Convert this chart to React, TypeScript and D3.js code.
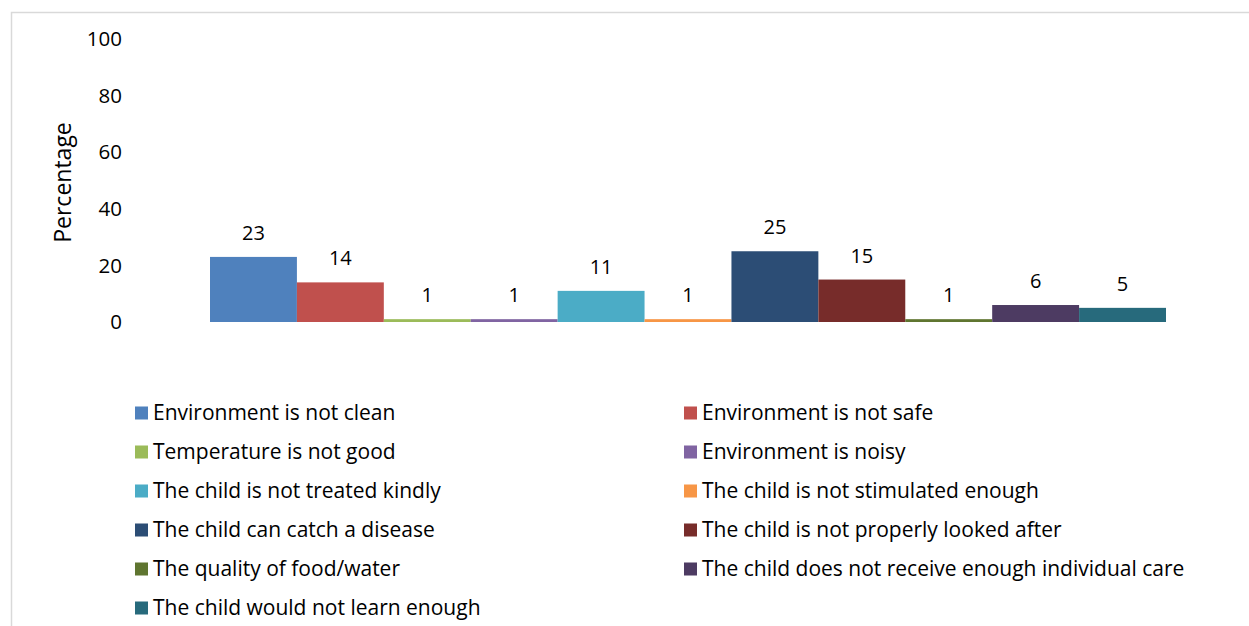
import React from 'react';
import * as d3 from 'd3';

// Reasons (one series each, single category)
const SERIES = [
  'Environment is not clean',
  'Environment is not safe',
  'Temperature is not good',
  'Environment is noisy',
  'The child is not treated kindly',
  'The child is not stimulated enough',
  'The child can catch a disease',
  'The child is not properly looked after',
  'The quality of food/water',
  'The child does not receive enough individual care',
  'The child would not learn enough',
];

const VALUES = [23, 14, 1, 1, 11, 1, 25, 15, 1, 6, 5];

const COLORS = [
  '#4F81BD', '#C0504D', '#9BBB59', '#8064A2', '#4BACC6', '#F79646',
  '#2C4D75', '#772C2A', '#5F7530', '#4D3B62', '#276A7C',
];

const Y_TICKS = [0, 20, 40, 60, 80, 100];

const WIDTH = 1249;
const HEIGHT = 626;
const FONT = '"Open Sans", Lato, sans-serif';
const FS = 21;

export default function App() {
  const x = d3.scaleBand<string>()
    .domain(SERIES)
    .range([210, 1166])
    .padding(0);

  const y = d3.scaleLinear()
    .domain([0, 100])
    .range([322, 39]);

  // legend laid out in two columns
  const legendX = [135, 684];
  const legendTop = 413;
  const legendStep = 39;

  return (
    <svg
      width={WIDTH}
      height={HEIGHT}
      style={{ position: 'absolute', left: 0, top: 0, display: 'block' }}
      fontFamily={FONT}
    >
      <rect x={0} y={0} width={WIDTH} height={HEIGHT} fill="#fff" />
      {/* chart frame */}
      <rect x={11.5} y={12.5} width={WIDTH} height={HEIGHT} fill="none" stroke="#d9d9d9" strokeWidth={1.5} />

      {/* y axis labels */}
      {Y_TICKS.map(t => (
        <text key={t} x={122} y={y(t)} dy="0.35em" textAnchor="end" fontSize={20.5} fill="#000">
          {t}
        </text>
      ))}
      <text
        transform={`translate(71, ${y(50) + 2}) rotate(-90)`}
        textAnchor="middle"
        fontSize={23}
        fill="#000"
      >
        Percentage
      </text>

      {/* bars */}
      {SERIES.map((s, i) => (
        <g key={s}>
          <rect
            x={x(s)}
            y={y(VALUES[i])}
            width={x.bandwidth()}
            height={y(0) - y(VALUES[i])}
            fill={COLORS[i]}
          />
          <text
            x={(x(s) || 0) + x.bandwidth() / 2}
            y={y(VALUES[i]) - 17}
            textAnchor="middle"
            fontSize={20}
            fill="#000"
          >
            {VALUES[i]}
          </text>
        </g>
      ))}

      {/* legend */}
      {SERIES.map((s, i) => {
        const col = i % 2;
        const row = Math.floor(i / 2);
        const cy = legendTop + row * legendStep;
        return (
          <g key={'lg-' + s} transform={`translate(${legendX[col]}, ${cy})`}>
            <rect x={0} y={-6.5} width={13} height={13} fill={COLORS[i]} />
            <text x={18} y={0} dy="0.35em" fontSize={FS} fill="#000">
              {s}
            </text>
          </g>
        );
      })}
    </svg>
  );
}
